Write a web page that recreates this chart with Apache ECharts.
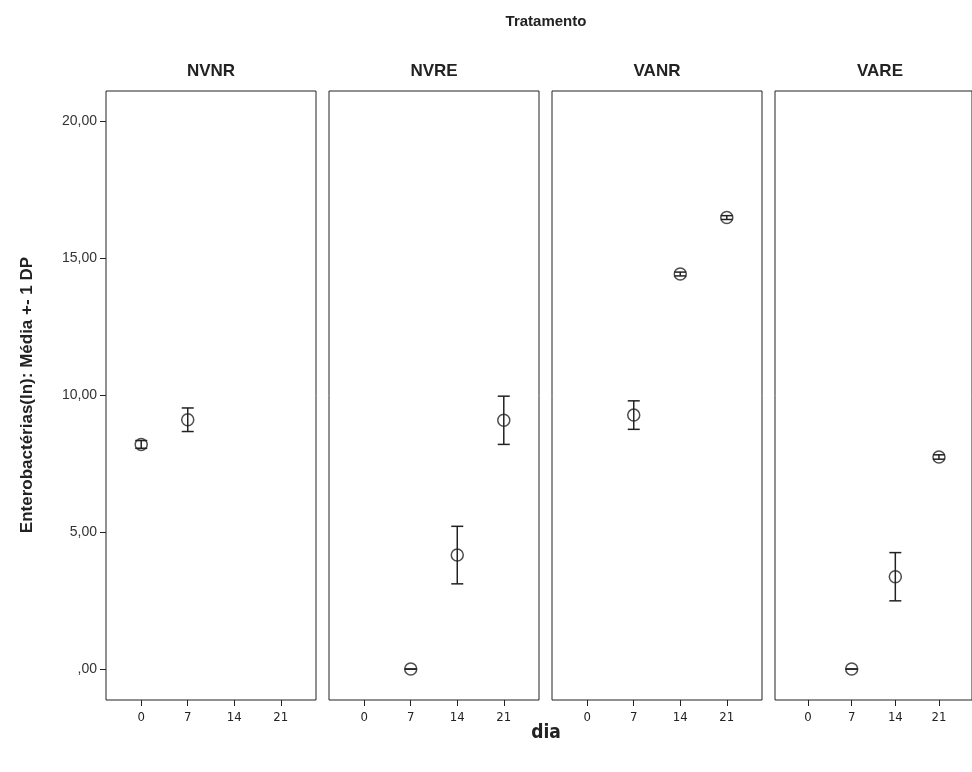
<!DOCTYPE html>
<html>
<head>
<meta charset="utf-8">
<title>Enterobactérias por tratamento</title>
<script src="https://cdn.jsdelivr.net/npm/echarts@6/dist/echarts.min.js"></script>
<style>
  html, body { margin: 0; padding: 0; background: #fff; }
  #chart { width: 972px; height: 772px; }
</style>
</head>
<body>
<div id="chart"></div>
<script>
// Treatment groups (one panel each) and sampling days
const panels = ['NVNR', 'NVRE', 'VANR', 'VARE'];
const dayTicks = [0, 7, 14, 21];
const yTicks = [0, 5, 10, 15, 20];

// Mean and standard deviation of Enterobactérias (ln) per day, per treatment
const nvnrDays = [0, 7];
const nvnrMean = [8.20, 9.10];
const nvnrSd   = [0.14, 0.43];

const nvreDays = [7, 14, 21];
const nvreMean = [0.00, 4.16, 9.08];
const nvreSd   = [0.00, 1.05, 0.88];

const vanrDays = [7, 14, 21];
const vanrMean = [9.27, 14.42, 16.48];
const vanrSd   = [0.52, 0.07, 0.07];

const vareDays = [7, 14, 21];
const vareMean = [0.00, 3.37, 7.74];
const vareSd   = [0.00, 0.88, 0.08];

const groups = [
  { days: nvnrDays, mean: nvnrMean, sd: nvnrSd },
  { days: nvreDays, mean: nvreMean, sd: nvreSd },
  { days: vanrDays, mean: vanrMean, sd: vanrSd },
  { days: vareDays, mean: vareMean, sd: vareSd }
];

const INK = '#222';
const SANS = '"Liberation Sans", Arial, sans-serif';
const NARROW = '"Liberation Sans Narrow", "DejaVu Sans Condensed", "Liberation Sans", sans-serif';
const panelLeft = 106, panelStep = 223, panelWidth = 210, panelTop = 91, panelHeight = 609;

function fmtY(v) {
  if (v === 0) return ',00';
  return v.toFixed(2).replace('.', ',');
}

const grids = [], xAxes = [], yAxes = [], series = [], graphics = [];

panels.forEach((name, i) => {
  const left = panelLeft + i * panelStep;
  grids.push({
    left: left, top: panelTop, width: panelWidth, height: panelHeight,
    show: true, borderColor: INK, borderWidth: 1, backgroundColor: '#fff'
  });
  xAxes.push({
    gridIndex: i, type: 'value', min: -5.3, max: 26.3, position: 'bottom',
    axisLine: { show: false, onZero: false },
    splitLine: { show: false },
    axisTick: { show: true, customValues: dayTicks, length: 6, inside: false, lineStyle: { color: INK, width: 1 } },
    axisLabel: { customValues: dayTicks, margin: 11, fontSize: 13, color: INK, fontFamily: NARROW }
  });
  yAxes.push({
    gridIndex: i, type: 'value', min: -1.13, max: 21.1, position: 'left',
    axisLine: { show: false, onZero: false },
    splitLine: { show: false },
    axisTick: { show: i === 0, customValues: yTicks, length: 6, lineStyle: { color: INK, width: 1 } },
    axisLabel: {
      show: i === 0, customValues: yTicks, margin: 9, fontSize: 14, color: '#333',
      fontFamily: SANS, formatter: fmtY
    }
  });

  const g = groups[i];
  const pts = g.days.map((d, k) => [d, g.mean[k], g.sd[k]]);

  // error bars: mean ± 1 SD with horizontal caps
  series.push({
    type: 'custom', xAxisIndex: i, yAxisIndex: i, data: pts, z: 2,
    renderItem: function (params, api) {
      const x = api.value(0), m = api.value(1), s = api.value(2);
      const top = api.coord([x, m + s]);
      const bot = api.coord([x, m - s]);
      const hw = 6;
      const st = { stroke: INK, lineWidth: 1.5 };
      return {
        type: 'group',
        children: [
          { type: 'line', shape: { x1: top[0], y1: top[1], x2: bot[0], y2: bot[1] }, style: st },
          { type: 'line', shape: { x1: top[0] - hw, y1: top[1], x2: top[0] + hw, y2: top[1] }, style: st },
          { type: 'line', shape: { x1: bot[0] - hw, y1: bot[1], x2: bot[0] + hw, y2: bot[1] }, style: st }
        ]
      };
    }
  });
  // mean markers: open circles
  series.push({
    type: 'scatter', xAxisIndex: i, yAxisIndex: i, z: 3,
    data: pts.map(p => [p[0], p[1]]),
    symbol: 'circle', symbolSize: 12,
    itemStyle: { color: 'rgba(0,0,0,0)', borderColor: INK, borderWidth: 1.5 },
    emphasis: { disabled: true }
  });

  // panel title
  graphics.push({
    type: 'text',
    style: { text: name, x: left + panelWidth / 2, y: 63, textAlign: 'center', fontSize: 17, fontWeight: 'bold',
             fill: INK, fontFamily: SANS }
  });
});

graphics.push({
  type: 'text',
  style: { text: 'Tratamento', x: 546, y: 14, textAlign: 'center', fontSize: 15, fontWeight: 'bold', fill: INK,
           fontFamily: SANS }
});
graphics.push({
  type: 'text',
  style: { text: 'dia', x: 546, y: 724, textAlign: 'center', fontSize: 19, fontWeight: 'bold', fill: INK,
           fontFamily: NARROW }
});
graphics.push({
  type: 'text', rotation: Math.PI / 2, x: 27, y: 395,
  style: { text: 'Enterobactérias(ln): Média +- 1 DP', x: 0, y: 0, textAlign: 'center', textVerticalAlign: 'middle',
           fontSize: 17, fontWeight: 'bold', fill: INK, fontFamily: SANS }
});

const chart = echarts.init(document.getElementById('chart'), null, { renderer: 'canvas' });
chart.setOption({
  backgroundColor: '#fff',
  animation: false,
  grid: grids,
  xAxis: xAxes,
  yAxis: yAxes,
  series: series,
  graphic: graphics
});
</script>
</body>
</html>
